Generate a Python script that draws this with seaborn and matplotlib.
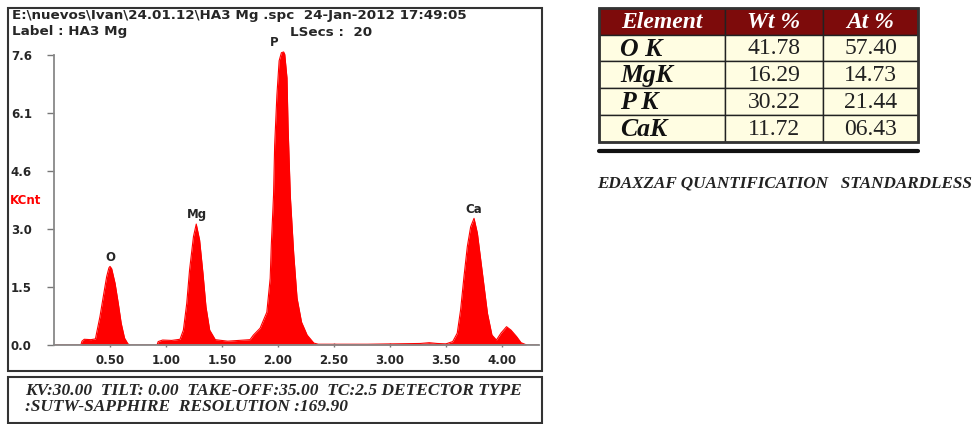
import numpy as np
import pandas as pd
import seaborn as sns
import matplotlib.pyplot as plt
from matplotlib.patches import Rectangle

# spectrum (keV, KCnt)
energy_kev = [0.00, 0.24, 0.25, 0.27, 0.33, 0.37, 0.38, 0.41, 0.44, 0.47, 0.49, 0.50,
              0.515, 0.545, 0.574, 0.60, 0.63, 0.66, 0.68, 0.92, 0.93, 0.97, 1.05, 1.125,
              1.155, 1.185, 1.21, 1.245, 1.27, 1.30, 1.33, 1.357, 1.39, 1.44, 1.55, 1.65,
              1.75, 1.78, 1.84, 1.90, 1.93, 1.94, 1.96, 1.97, 1.99, 2.01, 2.03, 2.05,
              2.06, 2.08, 2.09, 2.11, 2.14, 2.17, 2.21, 2.26, 2.32, 2.36, 2.80, 3.27,
              3.35, 3.42, 3.50, 3.56, 3.60, 3.63, 3.66, 3.69, 3.72, 3.75, 3.78, 3.81,
              3.84, 3.87, 3.91, 3.95, 3.99, 4.04, 4.08, 4.13, 4.17, 4.22, 4.35]
counts_kcnt = [0.00, 0.00, 0.10, 0.15, 0.14, 0.16, 0.31, 0.74, 1.27, 1.79, 2.02, 2.06,
               2.00, 1.62, 1.09, 0.57, 0.18, 0.03, 0.00, 0.00, 0.09, 0.13, 0.12, 0.15,
               0.39, 1.09, 1.96, 2.84, 3.17, 2.75, 1.88, 1.00, 0.39, 0.14, 0.10, 0.12,
               0.14, 0.26, 0.44, 0.86, 1.75, 2.62, 3.93, 5.24, 6.55, 7.45, 7.66, 7.68,
               7.62, 7.00, 5.70, 3.90, 2.40, 1.23, 0.60, 0.26, 0.05, 0.02, 0.02, 0.04,
               0.06, 0.04, 0.03, 0.09, 0.31, 0.92, 1.79, 2.58, 3.10, 3.32, 2.93, 2.23,
               1.53, 0.83, 0.26, 0.13, 0.31, 0.48, 0.39, 0.22, 0.06, 0.00, 0.00]

peak_names = ['O', 'Mg', 'P', 'Ca']
label_energy = [0.50, 1.28, 1.97, 3.75]
label_height = [2.06, 3.17, 7.68, 3.32]

x_ticks = [0.5, 1.0, 1.5, 2.0, 2.5, 3.0, 3.5, 4.0]
x_ticklabels = ['0.50', '1.00', '1.50', '2.00', '2.50', '3.00', '3.50', '4.00']
y_ticks = [0, 1.52, 3.04, 4.56, 6.08, 7.6]
y_ticklabels = ['0.0', '1.5', '3.0', '4.6', '6.1', '7.6']

elements = ['O K', 'MgK', 'P K', 'CaK']
wt_pct = ['41.78', '16.29', '30.22', '11.72']
at_pct = ['57.40', '14.73', '21.44', '06.43']
col_headers = ['Element', 'Wt %', 'At %']

spec = pd.DataFrame({'keV': energy_kev, 'KCnt': counts_kcnt})

sns.set_style('white')
W, H = 975, 424
fig = plt.figure(figsize=(W / 100, H / 100), dpi=100)

def fx(px):
    return px / W

def fy(py):
    return 1 - py / H

sans = 'DejaVu Sans'
serif = 'Liberation Serif'
red = '#ff0000'

# spectrum axes
ax = fig.add_axes([fx(54), fy(345), fx(539 - 54), (345 - 49.3) / H])
ax.fill_between(spec['keV'], 0, spec['KCnt'], color=red, lw=0)
sns.lineplot(data=spec, x='keV', y='KCnt', ax=ax, color=red, lw=0.8)
ax.set_xlim(0, 4.33)
ax.set_ylim(0, 7.75)
ax.set_xlabel('')
ax.set_ylabel('')
ax.set_xticks(x_ticks)
ax.set_xticklabels(x_ticklabels, fontfamily=sans, fontweight='bold', fontsize=8.5)
ax.set_yticks(y_ticks)
ax.set_yticklabels(y_ticklabels, fontfamily=sans, fontweight='bold', fontsize=8.5)
ax.tick_params(axis='y', direction='out', length=5, width=1, color='#777777', pad=11, left=True)
ax.tick_params(axis='x', direction='inout', length=3, width=1, color='#777777', pad=5, bottom=True)
for s in ['top', 'right']:
    ax.spines[s].set_visible(False)
ax.spines['left'].set_bounds(0, 7.6)
ax.spines['left'].set_color('#888888')
ax.spines['left'].set_linewidth(1.3)
ax.spines['bottom'].set_color('#888888')
ax.spines['bottom'].set_linewidth(1.3)
ax.patch.set_alpha(0)

for name, e, h in zip(peak_names, label_energy, label_height):
    ax.annotate(name, (e, h), xytext=(0, 2), textcoords='offset points', ha='center', va='bottom',
                fontfamily=sans, fontweight='bold', fontsize=8.5, annotation_clip=False)

# frames
fig.patches.append(Rectangle((fx(8), fy(371)), fx(534), 363 / H, transform=fig.transFigure,
                             fill=False, ec='#333333', lw=1.5))
fig.patches.append(Rectangle((fx(8), fy(423)), fx(534), 46 / H, transform=fig.transFigure,
                             fill=False, ec='#333333', lw=1.5))

fig.text(fx(12), fy(16), 'E:\\nuevos\\Ivan\\24.01.12\\HA3 Mg .spc  24-Jan-2012 17:49:05',
         fontfamily=sans, fontweight='bold', fontsize=9.7, va='center')
fig.text(fx(12), fy(32), 'Label : HA3 Mg', fontfamily=sans, fontweight='bold', fontsize=9.7, va='center')
fig.text(fx(290), fy(32), 'LSecs :  20', fontfamily=sans, fontweight='bold', fontsize=9.7, va='center')
fig.text(fx(10), fy(201), 'KCnt', color=red, fontfamily=sans, fontweight='bold', fontsize=8.5, va='center')

fig.text(fx(25), fy(391), 'KV:30.00  TILT: 0.00  TAKE-OFF:35.00  TC:2.5 DETECTOR TYPE',
         fontfamily=serif, fontweight='bold', fontstyle='italic', fontsize=12.5, va='center')
fig.text(fx(25), fy(407), ':SUTW-SAPPHIRE  RESOLUTION :169.90',
         fontfamily=serif, fontweight='bold', fontstyle='italic', fontsize=12.5, va='center')

# composition table
col_x = [599, 725, 823, 918]
row_y = [8, 35, 61, 88, 115, 142]
hdr_bg = '#7d0b0b'
cell_bg = '#fffde2'
rows = [[a, b, c] for a, b, c in zip(elements, wt_pct, at_pct)]
for r in range(5):
    for c in range(3):
        x0, x1 = col_x[c], col_x[c + 1]
        y0, y1 = row_y[r], row_y[r + 1]
        bg = hdr_bg if r == 0 else cell_bg
        fig.patches.append(Rectangle((fx(x0), fy(y1)), fx(x1 - x0), (y1 - y0) / H,
                                     transform=fig.transFigure, fc=bg, ec='#222222', lw=1))
        yc = fy((y0 + y1) / 2 + 1)
        if r == 0:
            fig.text(fx((x0 + x1) / 2), yc, col_headers[c], color='white', fontfamily=serif,
                     fontweight='bold', fontstyle='italic', fontsize=17, ha='center', va='center')
        elif c == 0:
            fig.text(fx(620), yc, rows[r - 1][0], color='#111111', fontfamily=serif,
                     fontweight='bold', fontstyle='italic', fontsize=18.5, ha='left', va='center')
        else:
            fig.text(fx((x0 + x1) / 2), yc, rows[r - 1][c], color='#222222', fontfamily=serif,
                     fontsize=17, ha='center', va='center')
fig.patches.append(Rectangle((fx(599), fy(142)), fx(319), 134 / H, transform=fig.transFigure,
                             fill=False, ec='#333333', lw=2))
fig.lines.append(plt.Line2D([fx(599), fx(918)], [fy(151), fy(151)], transform=fig.transFigure,
                            color='#111111', lw=3))

fig.text(fx(597), fy(183), 'EDAXZAF QUANTIFICATION   STANDARDLESS', fontfamily=serif,
         fontweight='bold', fontstyle='italic', fontsize=12.3, va='center', color='#222222')

fig.savefig('out.png', dpi=100)
